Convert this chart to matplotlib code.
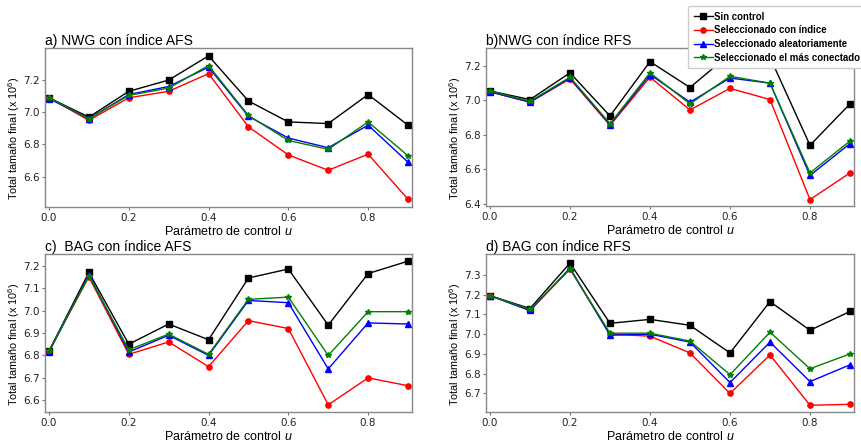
import matplotlib
matplotlib.use("Agg")
import matplotlib.pyplot as plt

# DATA
u = [0.0, 0.1, 0.2, 0.3, 0.4, 0.5, 0.6, 0.7, 0.8, 0.9]
series_names = ["Sin control", "Seleccionado con índice",
                "Seleccionado aleatoriamente", "Seleccionado el más conectado"]

# a) NWG con indice AFS
nwg_afs_sin = [7.09, 6.97, 7.13, 7.20, 7.35, 7.07, 6.94, 6.93, 7.11, 6.92]
nwg_afs_ind = [7.09, 6.95, 7.09, 7.13, 7.24, 6.91, 6.735, 6.64, 6.74, 6.46]
nwg_afs_ale = [7.085, 6.96, 7.11, 7.16, 7.28, 6.975, 6.84, 6.78, 6.92, 6.69]
nwg_afs_con = [7.09, 6.96, 7.105, 7.15, 7.29, 6.98, 6.825, 6.77, 6.94, 6.73]

# b) NWG con indice RFS
nwg_rfs_sin = [7.055, 7.005, 7.16, 6.91, 7.225, 7.075, 7.27, 7.25, 6.74, 6.98]
nwg_rfs_ind = [7.05, 6.99, 7.125, 6.855, 7.135, 6.945, 7.07, 7.005, 6.425, 6.58]
nwg_rfs_ale = [7.05, 6.99, 7.13, 6.86, 7.15, 6.99, 7.13, 7.10, 6.565, 6.75]
nwg_rfs_con = [7.055, 6.995, 7.135, 6.865, 7.16, 6.98, 7.14, 7.10, 6.58, 6.765]

# c) BAG con indice AFS
bag_afs_sin = [6.82, 7.17, 6.85, 6.94, 6.87, 7.145, 7.185, 6.935, 7.165, 7.22]
bag_afs_ind = [6.82, 7.15, 6.805, 6.86, 6.75, 6.955, 6.92, 6.58, 6.70, 6.665]
bag_afs_ale = [6.815, 7.16, 6.815, 6.89, 6.80, 7.045, 7.035, 6.74, 6.945, 6.94]
bag_afs_con = [6.82, 7.155, 6.825, 6.895, 6.805, 7.05, 7.06, 6.80, 6.995, 6.995]

# d) BAG con indice RFS
bag_rfs_sin = [7.195, 7.13, 7.36, 7.055, 7.075, 7.045, 6.905, 7.165, 7.02, 7.115]
bag_rfs_ind = [7.195, 7.12, 7.33, 7.0, 6.99, 6.905, 6.70, 6.895, 6.64, 6.645]
bag_rfs_ale = [7.195, 7.12, 7.335, 6.995, 7.0, 6.96, 6.755, 6.96, 6.76, 6.845]
bag_rfs_con = [7.195, 7.125, 7.33, 7.005, 7.005, 6.965, 6.795, 7.01, 6.825, 6.90]

titles = ["a) NWG con índice AFS", "b)NWG con índice RFS",
          "c)  BAG con índice AFS", "d) BAG con índice RFS"]
x_ticks = [0.0, 0.2, 0.4, 0.6, 0.8]
y_ticks = [[6.6, 6.8, 7.0, 7.2],
           [6.4, 6.6, 6.8, 7.0, 7.2],
           [6.6, 6.7, 6.8, 6.9, 7.0, 7.1, 7.2],
           [6.7, 6.8, 6.9, 7.0, 7.1, 7.2, 7.3]]
y_limits = [(6.412, 7.399), (6.388, 7.304), (6.548, 7.252), (6.606, 7.406)]

panels = [
    [nwg_afs_sin, nwg_afs_ind, nwg_afs_ale, nwg_afs_con],
    [nwg_rfs_sin, nwg_rfs_ind, nwg_rfs_ale, nwg_rfs_con],
    [bag_afs_sin, bag_afs_ind, bag_afs_ale, bag_afs_con],
    [bag_rfs_sin, bag_rfs_ind, bag_rfs_ale, bag_rfs_con],
]

# STYLE
plt.rcParams['mathtext.fontset'] = 'custom'
plt.rcParams['mathtext.it'] = 'Liberation Sans:italic'
plt.rcParams['mathtext.rm'] = 'Liberation Sans'
label_font = 'Liberation Sans'
colors = ['black', 'red', 'blue', 'green']
markers = ['s', 'o', '^', '*']
msizes = [4.2, 3.8, 3.8, 3.8]

W, H = 861, 445
fig = plt.figure(figsize=(W / 100, H / 100), dpi=100)

# axes boxes in pixels: left, top, right, bottom
boxes = [(45, 48, 412, 207), (486, 48, 854, 206),
         (45, 254, 412, 412), (486, 254, 854, 412)]

lines = []
for i, box in enumerate(boxes):
    l, t, r, b = box
    ax = fig.add_axes([l / W, 1 - b / H, (r - l) / W, (b - t) / H])
    for k, vals in enumerate(panels[i]):
        ln, = ax.plot(u, vals, color=colors[k], marker=markers[k],
                      markersize=msizes[k], linewidth=1.0, label=series_names[k])
        if i == 0:
            lines.append(ln)
    ax.set_xlim(-0.01, 0.91)
    ax.set_ylim(*y_limits[i])
    ax.set_xticks(x_ticks)
    ax.set_yticks(y_ticks[i])
    ax.tick_params(labelsize=7.5, labelcolor='#222222', color='#777777',
                   length=2.5, width=0.8, pad=1.5)
    for sp in ax.spines.values():
        sp.set_color('#888888')
        sp.set_linewidth(1.0)
    ax.set_title(titles[i], loc='left', fontsize=10, family=label_font, pad=2)
    ax.set_xlabel('Parámetro de control $u$', fontsize=9, family=label_font,
                  labelpad=2)
    ax.set_ylabel('Total tamaño final (x 10$^6$)', fontsize=7.8,
                  family=label_font)
    ax.yaxis.set_label_coords(-23 / (r - l), 0.43)

# LEGEND
leg = fig.legend(handles=lines, loc='upper left',
                 bbox_to_anchor=(688 / W, 1 - 6 / H),
                 prop={'family': label_font, 'weight': 'bold', 'size': 6.9},
                 handlelength=2.0, handletextpad=0.1, labelspacing=0.38,
                 borderpad=0.6, borderaxespad=0.0, framealpha=1.0,
                 edgecolor='#cccccc', fancybox=True)
leg.set_zorder(10)

fig.savefig('out.png', dpi=100)
